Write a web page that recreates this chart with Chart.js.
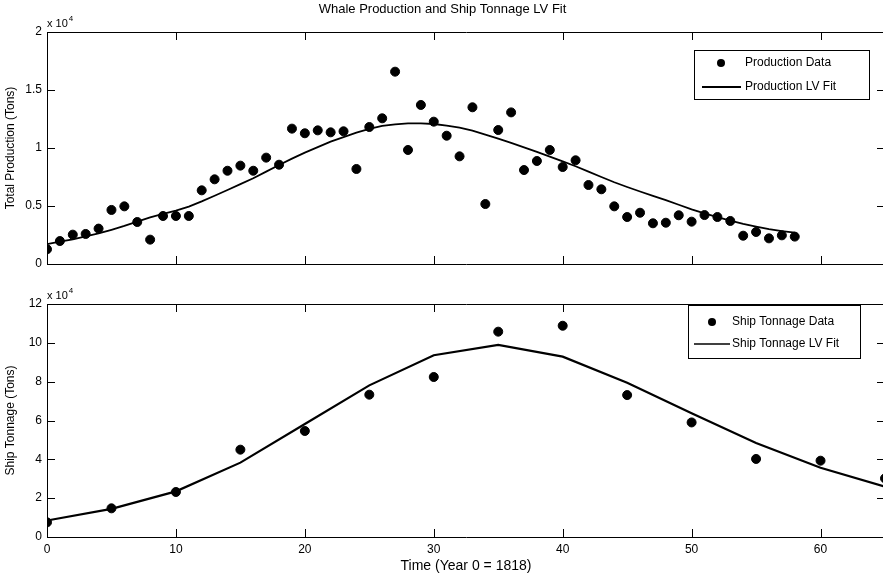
<!DOCTYPE html>
<html>
<head>
<meta charset="utf-8">
<title>Whale Production and Ship Tonnage LV Fit</title>
<script src="https://cdn.jsdelivr.net/npm/chart.js@4.4.1/dist/chart.umd.min.js"></script>
<style>
    html, body { margin: 0; padding: 0; background: #fff; overflow: hidden; }
    #wrap { position: relative; width: 883px; height: 577px; overflow: hidden; }
    canvas { position: absolute; left: 0; }
    #prodCanvas { top: 0; }
    #shipCanvas { top: 280px; }
</style>
</head>
<body>
<div id="wrap">
    <canvas id="prodCanvas" width="885" height="280"></canvas>
    <canvas id="shipCanvas" width="885" height="297"></canvas>
</div>
<script>
/* ===== DATA ===== */
// Production (tons), one point per year, year 0 = 1818
const productionYears = [
    0, 1, 2, 3, 4, 5, 6, 7, 8, 9, 10, 11, 12, 13, 14, 15, 16, 17, 18, 19,
    20, 21, 22, 23, 24, 25, 26, 27, 28, 29, 30, 31, 32, 33, 34, 35, 36, 37, 38, 39,
    40, 41, 42, 43, 44, 45, 46, 47, 48, 49, 50, 51, 52, 53, 54, 55, 56, 57, 58
];
const productionData = [
    1270, 1980, 2530, 2590, 3050, 4660, 4970, 3620, 2100, 4140,
    4140, 4140, 6350, 7300, 8040, 8480, 8040, 9170, 8560, 11670,
    11270, 11520, 11350, 11440, 8190, 11810, 12560, 16580, 9830, 13710,
    12270, 11060, 9280, 13510, 5170, 11550, 13070, 8100, 8880, 9830,
    8360, 8940, 6810, 6440, 4970, 4050, 4420, 3510, 3560, 4200,
    3650, 4220, 4050, 3710, 2440, 2760, 2210, 2470, 2360
];
const productionFit = [
    1720, 1920, 2130, 2380, 2640, 2950, 3280, 3650, 4020, 4330,
    4600, 4950, 5400, 5880, 6380, 6880, 7390, 7960, 8530, 9080,
    9600, 10080, 10550, 10940, 11320, 11650, 11900, 12040, 12130, 12130,
    12070, 11930, 11750, 11490, 11150, 10800, 10440, 10060, 9660, 9250,
    8850, 8430, 7970, 7500, 7050, 6640, 6250, 5880, 5510, 5110,
    4710, 4370, 4040, 3740, 3460, 3220, 3000, 2840, 2700
];

// Ship tonnage (tons), every 5 years
const shipYears = [0, 5, 10, 15, 20, 25, 30, 35, 40, 45, 50, 55, 60, 65];
const shipData = [7550, 14760, 23180, 44980, 54600, 73300, 82400, 105750, 108800, 73100, 59000, 40200, 39300, 30200];
const shipFit = [8500, 14500, 23500, 38300, 58200, 78100, 93600, 98900, 92900, 79500, 63700, 48400, 35700, 25900];

const prodTicks = [0, 5000, 10000, 15000, 20000];
const shipTicks = [0, 20000, 40000, 60000, 80000, 100000, 120000];
const timeTicks = [0, 10, 20, 30, 40, 50, 60];

/* ===== HELPERS ===== */
Chart.defaults.font.family = "'Liberation Sans', Arial, sans-serif";
Chart.defaults.font.size = 12;
Chart.defaults.color = '#000';

const toPoints = (xs, ys) => xs.map((x, i) => ({ x: x, y: ys[i] }));

// MATLAB style box, inward ticks, exponent label and legend
const matlabAxes = {
    id: 'matlabAxes',
    afterDraw(chart, args, opts) {
        const ctx = chart.ctx;
        const area = chart.chartArea;
        const xs = chart.scales.x;
        const ys = chart.scales.y;
        const tl = 8;

        ctx.save();
        ctx.strokeStyle = '#000';
        ctx.lineWidth = 1;
        ctx.beginPath();
        ctx.rect(Math.round(area.left) + 0.5, Math.round(area.top) + 0.5,
            Math.round(area.right - area.left), Math.round(area.bottom - area.top));
        xs.ticks.forEach(t => {
            const px = Math.round(xs.getPixelForValue(t.value)) + 0.5;
            ctx.moveTo(px, area.bottom);
            ctx.lineTo(px, area.bottom - tl);
            ctx.moveTo(px, area.top);
            ctx.lineTo(px, area.top + tl);
        });
        ys.ticks.forEach(t => {
            const py = Math.round(ys.getPixelForValue(t.value)) + 0.5;
            ctx.moveTo(area.left, py);
            ctx.lineTo(area.left + tl, py);
            ctx.moveTo(area.right, py);
            ctx.lineTo(area.right - tl, py);
        });
        ctx.stroke();

        // x 10^4
        ctx.fillStyle = '#000';
        ctx.textAlign = 'left';
        ctx.textBaseline = 'alphabetic';
        ctx.font = "11px 'Liberation Sans', Arial, sans-serif";
        ctx.fillText('x 10', area.left, area.top - 5);
        const w = ctx.measureText('x 10').width;
        ctx.font = "8px 'Liberation Sans', Arial, sans-serif";
        ctx.fillText('4', area.left + w + 1, area.top - 11);

        // legend box
        const lg = opts.legend;
        ctx.fillStyle = '#fff';
        ctx.fillRect(lg.left, lg.top, lg.width, lg.height);
        ctx.strokeRect(lg.left + 0.5, lg.top + 0.5, lg.width, lg.height);
        ctx.font = "12px 'Liberation Sans', Arial, sans-serif";
        ctx.textBaseline = 'middle';
        ctx.fillStyle = '#000';
        lg.items.forEach(item => {
            if (item.kind === 'dot') {
                ctx.beginPath();
                ctx.arc(item.mx, item.y, 4, 0, Math.PI * 2);
                ctx.fill();
            } else {
                ctx.beginPath();
                ctx.lineWidth = item.lw;
                ctx.moveTo(item.mx, item.y);
                ctx.lineTo(item.mx2, item.y);
                ctx.stroke();
                ctx.lineWidth = 1;
            }
            ctx.fillText(item.text, item.tx, item.y);
        });
        ctx.restore();
    }
};

function timeAxis(showLabels) {
    return {
        type: 'linear',
        position: 'bottom',
        min: 0,
        max: 65,
        grid: { display: false, drawTicks: false },
        border: { display: false },
        ticks: { display: showLabels, stepSize: 10, padding: 5, font: { size: 12 } },
        afterBuildTicks: scale => {
            scale.ticks = timeTicks.map(v => ({ value: v }));
        },
        title: {
            display: showLabels,
            text: 'Time (Year 0 = 1818)',
            font: { size: 14 },
            padding: { top: 2, bottom: 2 }
        },
        afterFit: scale => { scale.height = showLabels ? 40 : 0; }
    };
}

function valueAxis(maxVal, step, tickValues, label) {
    return {
        type: 'linear',
        min: 0,
        max: maxVal,
        grid: { display: false, drawTicks: false },
        border: { display: false },
        ticks: {
            stepSize: step,
            padding: 5,
            font: { size: 12 },
            callback: value => String(value / 10000)
        },
        afterBuildTicks: scale => {
            scale.ticks = tickValues.map(v => ({ value: v }));
        },
        title: {
            display: true,
            text: label,
            font: { size: 12 },
            padding: { top: 3, bottom: 0 }
        },
        afterFit: scale => { scale.width = 47; }
    };
}

/* ===== PRODUCTION CHART ===== */
new Chart(document.getElementById('prodCanvas'), {
    type: 'scatter',
    data: {
        datasets: [
            {
                label: 'Production Data',
                data: toPoints(productionYears, productionData),
                backgroundColor: '#000',
                borderColor: '#000',
                pointRadius: 4.5,
                showLine: false
            },
            {
                label: 'Production LV Fit',
                data: toPoints(productionYears, productionFit),
                borderColor: '#000',
                borderWidth: 1.8,
                pointRadius: 0,
                showLine: true,
                tension: 0
            }
        ]
    },
    options: {
        responsive: false,
        animation: false,
        layout: { autoPadding: false, padding: { top: 0, right: 0, bottom: 16, left: 0 } },
        plugins: {
            legend: { display: false },
            tooltip: { enabled: false },
            title: {
                display: true,
                text: 'Whale Production and Ship Tonnage LV Fit',
                font: { size: 13, weight: 'normal' },
                color: '#000',
                padding: { top: 2, bottom: 14.4 }
            },
            matlabAxes: {
                legend: {
                    left: 694, top: 50, width: 175, height: 49,
                    items: [
                        { kind: 'dot', mx: 721, y: 63, tx: 745, text: 'Production Data' },
                        { kind: 'line', mx: 702, mx2: 741, lw: 1.8, y: 87, tx: 745, text: 'Production LV Fit' }
                    ]
                }
            }
        },
        scales: {
            x: timeAxis(false),
            y: valueAxis(20000, 5000, prodTicks, 'Total Production (Tons)')
        }
    },
    plugins: [matlabAxes]
});

/* ===== SHIP TONNAGE CHART ===== */
new Chart(document.getElementById('shipCanvas'), {
    type: 'scatter',
    data: {
        datasets: [
            {
                label: 'Ship Tonnage Data',
                data: toPoints(shipYears, shipData),
                backgroundColor: '#000',
                borderColor: '#000',
                pointRadius: 4.5,
                showLine: false
            },
            {
                label: 'Ship Tonnage LV Fit',
                data: toPoints(shipYears, shipFit),
                borderColor: '#000',
                borderWidth: 2.2,
                pointRadius: 0,
                showLine: true,
                tension: 0
            }
        ]
    },
    options: {
        responsive: false,
        animation: false,
        layout: { autoPadding: false, padding: { top: 24, right: 0, bottom: 0, left: 0 } },
        plugins: {
            legend: { display: false },
            tooltip: { enabled: false },
            matlabAxes: {
                legend: {
                    left: 688, top: 25, width: 172, height: 53,
                    items: [
                        { kind: 'dot', mx: 712, y: 42, tx: 732, text: 'Ship Tonnage Data' },
                        { kind: 'line', mx: 694, mx2: 730, lw: 1.5, y: 64, tx: 732, text: 'Ship Tonnage LV Fit' }
                    ]
                }
            }
        },
        scales: {
            x: timeAxis(true),
            y: valueAxis(120000, 20000, shipTicks, 'Ship Tonnage (Tons)')
        }
    },
    plugins: [matlabAxes]
});
</script>
</body>
</html>
